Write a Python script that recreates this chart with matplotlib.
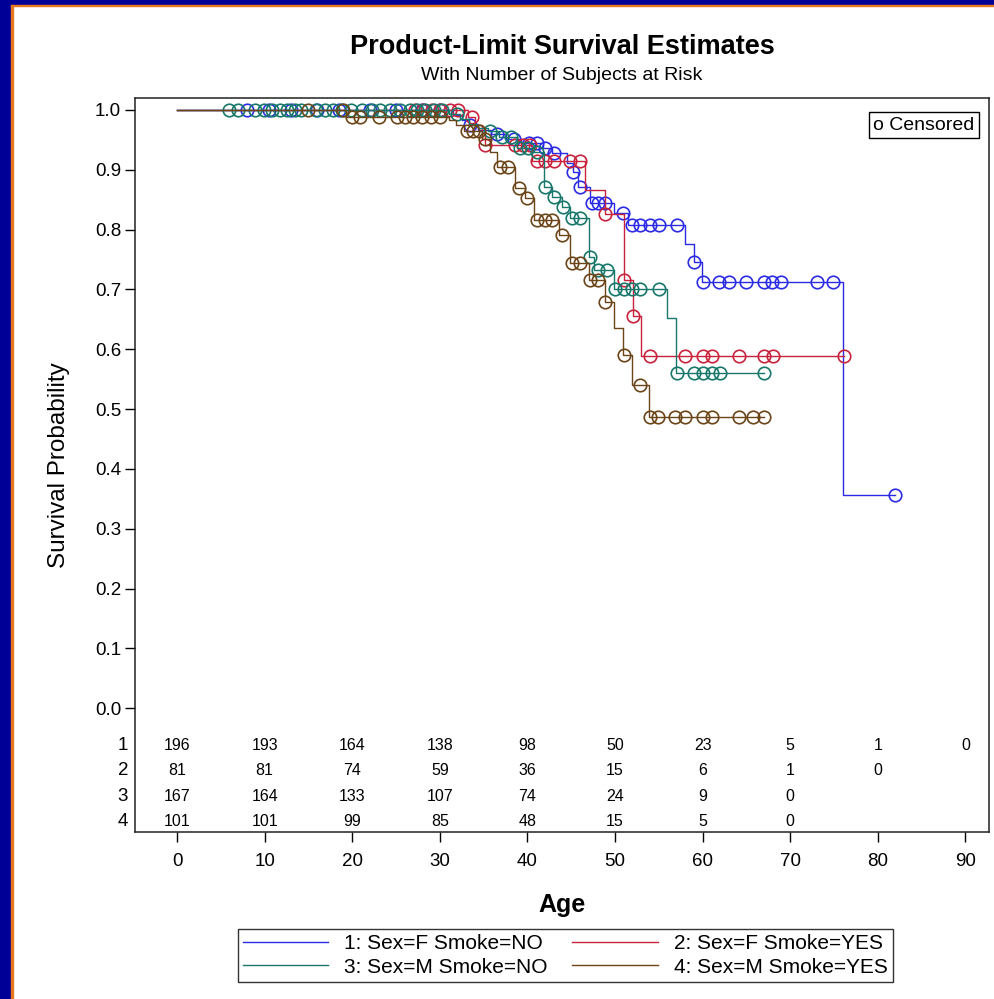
import numpy as np
import matplotlib
matplotlib.use('Agg')
import matplotlib.pyplot as plt
from matplotlib.patches import Rectangle

plt.rcParams['font.family'] = ['Liberation Sans', 'DejaVu Sans']

# strata: event ages, survival after each event, censored ages
g1_t = [31.5, 32.5, 33.3, 34.3, 35.8, 37.5, 39.3, 41.8, 42.8, 44.5, 45.2, 45.8,
        47.2, 49.9, 51.5, 58.0, 59.0, 59.9, 76.0]
g1_s = [0.992, 0.983, 0.975, 0.967, 0.960, 0.952, 0.944, 0.936, 0.928, 0.911, 0.897, 0.872,
        0.845, 0.828, 0.808, 0.776, 0.746, 0.713, 0.357]
g1_c = [8.0, 10.5, 13.0, 16.0, 18.5, 22.0, 25.0, 28.0, 30.0, 33.5, 36.5, 38.5, 40.2, 41.1,
        42.0, 43.0, 45.2, 46.0, 47.4, 48.1, 48.9, 50.9, 51.9, 52.9, 54.0, 55.0, 57.1, 59.0,
        60.1, 61.9, 63.0, 64.9, 67.0, 67.9, 68.9, 73.1, 74.9, 82.0]

g2_t = [33.2, 34.0, 34.8, 35.2, 40.5, 46.6, 48.9, 51.0, 52.0, 53.0]
g2_s = [0.988, 0.975, 0.962, 0.941, 0.914, 0.866, 0.826, 0.716, 0.655, 0.589]
g2_c = [27.2, 28.1, 29.1, 30.0, 31.2, 32.1, 33.7, 35.2, 38.6, 39.5, 40.3, 41.1, 42.0, 43.0,
        44.9, 46.0, 48.9, 51.0, 52.0, 54.0, 58.0, 60.1, 61.1, 64.1, 67.0, 68.0, 76.1]

g3_t = [31.0, 32.3, 33.3, 34.3, 35.5, 36.8, 38.8, 40.8, 41.9, 42.8, 43.9, 44.9, 47.0,
        47.6, 49.9, 55.9, 57.0]
g3_s = [0.993, 0.985, 0.977, 0.970, 0.964, 0.955, 0.936, 0.930, 0.872, 0.855, 0.838, 0.819,
        0.755, 0.732, 0.700, 0.653, 0.561]
g3_c = [5.9, 7.0, 8.9, 9.9, 10.8, 11.8, 12.5, 13.5, 14.2, 15.9, 16.9, 17.8, 18.8, 19.9,
        21.1, 22.2, 23.2, 24.3, 25.5, 26.6, 27.4, 28.3, 29.3, 30.2, 32.0, 35.7, 37.1, 38.1,
        39.2, 40.1, 41.1, 42.0, 43.0, 44.1, 45.1, 46.0, 47.2, 48.1, 49.1, 50.0, 51.0, 51.9,
        52.9, 55.0, 57.1, 59.0, 60.1, 61.1, 62.0, 67.0]

g4_t = [19.3, 31.0, 31.8, 32.8, 34.8, 35.7, 36.5, 38.6, 39.7, 40.8, 43.6, 44.9, 47.0,
        48.8, 49.9, 50.9, 51.9, 53.9]
g4_s = [0.989, 0.983, 0.975, 0.965, 0.951, 0.930, 0.905, 0.869, 0.852, 0.816, 0.791, 0.744,
        0.716, 0.679, 0.635, 0.590, 0.541, 0.487]
g4_c = [15.0, 19.0, 20.0, 20.9, 23.0, 25.1, 26.0, 26.9, 28.0, 29.0, 30.0, 33.1, 33.8, 34.5,
        35.2, 36.9, 37.8, 39.0, 39.9, 41.1, 42.0, 42.8, 43.9, 45.1, 46.0, 47.2, 48.1, 48.9,
        51.0, 52.9, 54.0, 54.9, 56.9, 58.0, 60.1, 61.1, 64.1, 65.8, 67.0]

labels = ['1: Sex=F Smoke=NO', '2: Sex=F Smoke=YES', '3: Sex=M Smoke=NO', '4: Sex=M Smoke=YES']
colors = ['#2B2BE6', '#C8223C', '#17776A', '#6B4418']

# number at risk every 10 years
risk_ages = [0, 10, 20, 30, 40, 50, 60, 70, 80, 90]
risk1 = [196, 193, 164, 138, 98, 50, 23, 5, 1, 0]
risk2 = [81, 81, 74, 59, 36, 15, 6, 1, 0]
risk3 = [167, 164, 133, 107, 74, 24, 9, 0]
risk4 = [101, 101, 99, 85, 48, 15, 5, 0]

groups = [(g1_t, g1_s, g1_c), (g2_t, g2_s, g2_c), (g3_t, g3_s, g3_c), (g4_t, g4_s, g4_c)]
risks = [risk1, risk2, risk3, risk4]

fig = plt.figure(figsize=(9.95, 9.99), dpi=100)
ax = fig.add_axes([0.1357, 0.1672, 0.8583, 0.7347])

handles = []
for (t, s, c), col, lab in zip(groups, colors, labels):
    t = np.array(t)
    s = np.array(s)
    c = np.array(c)
    end = max(t.max(), c.max())
    xs = np.concatenate([[0], t, [end]])
    ys = np.concatenate([[1.0], s, [s[-1]]])
    h, = ax.step(xs, ys, where='post', color=col, lw=1.0, label=lab)
    handles.append(h)
    idx = np.searchsorted(t, c, side='right')
    cy = np.where(idx == 0, 1.0, s[np.maximum(idx - 1, 0)])
    ax.plot(c, cy, 'o', mfc='none', mec=col, mew=1.2, ms=9, ls='none')

# at-risk table inside the plot area
row_y = [-0.062, -0.104, -0.147, -0.189]
for i, (r, yy) in enumerate(zip(risks, row_y)):
    for a, n in zip(risk_ages, r):
        ax.text(a, yy, str(n), ha='center', va='center', fontsize=11.5)
    ax.text(-0.008, yy, str(i + 1), transform=ax.get_yaxis_transform(),
            ha='right', va='center', fontsize=13.5)

ax.set_xlim(-4.8, 92.7)
ax.set_ylim(-0.207, 1.02)
ax.set_xticks(range(0, 100, 10))
ax.set_yticks(np.arange(0, 1.01, 0.1))
ax.set_yticklabels(['%.1f' % v for v in np.arange(0, 1.01, 0.1)])
ax.tick_params(direction='out', length=7, width=1, labelsize=13.5, pad=3)
ax.tick_params(axis='x', pad=8)
for sp in ax.spines.values():
    sp.set_linewidth(1.1)
    sp.set_color('#222222')

ax.set_xlabel('Age', fontsize=18, fontweight='bold', labelpad=17)
ax.set_ylabel('Survival Probability', fontsize=17.5, labelpad=18)

ax.text(0.983, 0.963, 'o Censored', transform=ax.transAxes, ha='right', va='center',
        fontsize=14, bbox=dict(boxstyle='square,pad=0.22', fc='white', ec='black', lw=1))

fig.text(0.565, 0.953, 'Product-Limit Survival Estimates', ha='center', va='center',
         fontsize=19.5, fontweight='bold')
fig.text(0.565, 0.924, 'With Number of Subjects at Risk', ha='center', va='center',
         fontsize=14)

# legend rows: 1 2 / 3 4
order = [0, 2, 1, 3]
leg = fig.legend(handles=[handles[k] for k in order], loc='center',
                 bbox_to_anchor=(0.568, 0.0435), ncol=2,
                 fontsize=15, handlelength=4.1, handletextpad=0.75, columnspacing=1.2,
                 labelspacing=0.2, borderpad=0.25, frameon=True, fancybox=False)
leg.get_frame().set_edgecolor('black')
leg.get_frame().set_linewidth(1.0)

# window border on the left and top
fig.patches.append(Rectangle((0, 0), 0.0115, 1, transform=fig.transFigure,
                             color='#000096', zorder=-1))
fig.patches.append(Rectangle((0, 0.995), 1, 0.005, transform=fig.transFigure,
                             color='#000096', zorder=-1))
fig.patches.append(Rectangle((0.0115, 0), 0.0015, 0.995, transform=fig.transFigure,
                             color='#E87820', zorder=-1))
fig.patches.append(Rectangle((0.0115, 0.9935), 0.9885, 0.0015, transform=fig.transFigure,
                             color='#E87820', zorder=-1))

fig.savefig('out.png', dpi=100)
